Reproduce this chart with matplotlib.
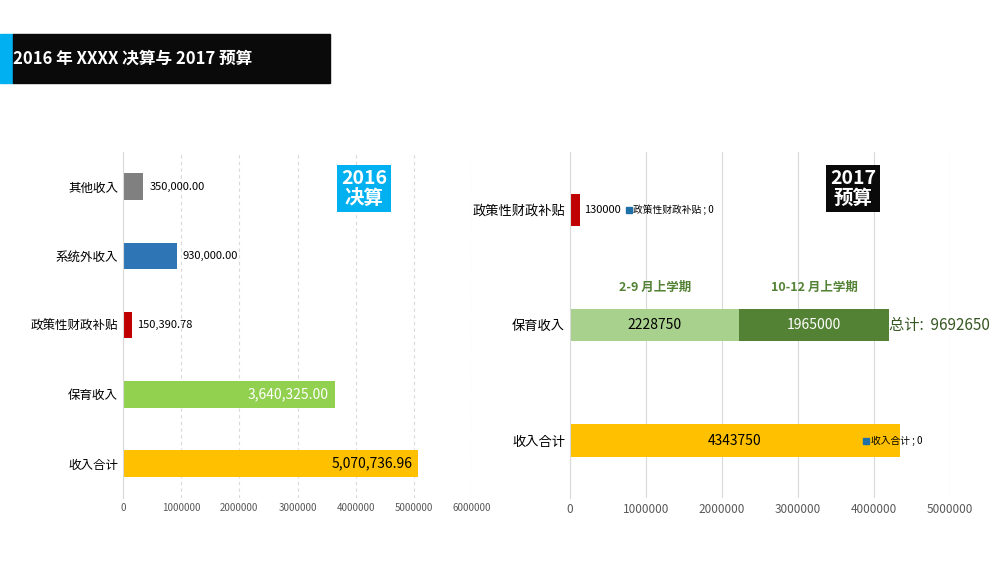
import matplotlib.pyplot as plt
from matplotlib.patches import Rectangle

plt.rcParams['font.family'] = ['Noto Sans CJK JP', 'Noto Sans CJK SC', 'DejaVu Sans']

# 2016 data (bottom to top)
cats_2016 = ["收入合计", "保育收入", "政策性财政补贴", "系统外收入", "其他收入"]
vals_2016 = [5070736.96, 3640325.00, 150390.78, 930000, 350000]
colors_2016 = ["#ffc000", "#92d050", "#c00000", "#2e75b6", "#808080"]
labels_2016 = ["5,070,736.96", "3,640,325.00", "150,390.78", "930,000.00", "350,000.00"]

# 2017 data
cats_2017 = ["收入合计", "保育收入", "政策性财政补贴"]
total_2017 = 4343750
first_term = 2228750
second_term = 1965000
subsidy_2017 = 130000
grand_total = 9692650

fig = plt.figure(figsize=(10, 5.63), dpi=100)

# header
fig.patches.append(Rectangle((0, 0.852), 0.013, 0.088, transform=fig.transFigure, color="#00b0f0"))
fig.patches.append(Rectangle((0.013, 0.852), 0.317, 0.088, transform=fig.transFigure, color="#0a0a0a"))
fig.text(0.013, 0.896, "2016 年 XXXX 决算与 2017 预算", color="white", fontsize=12, fontweight="bold", va="center")

# left chart
ax1 = fig.add_axes([0.123, 0.115, 0.349, 0.615])
y = range(len(cats_2016))
ax1.barh(y, vals_2016, height=0.38, color=colors_2016)
ax1.set_xlim(0, 6000000)
ax1.set_ylim(-0.5, 4.5)
ax1.set_xticks(range(0, 6000001, 1000000))
ax1.set_xticklabels([str(v) for v in range(0, 6000001, 1000000)], fontsize=7, color="#595959")
ax1.set_yticks(list(y))
ax1.set_yticklabels(cats_2016, fontsize=9)
for i, lab in enumerate(labels_2016):
    if i in (2, 3, 4):
        ax1.text(vals_2016[i] + 100000, i, lab, va="center", fontsize=8)
    else:
        ax1.text(vals_2016[i] - 100000, i, lab, va="center", ha="right", fontsize=10,
                 color="white" if i == 1 else "black")
ax1.grid(axis="x", color="#d9d9d9", linestyle=(0, (3, 3)), linewidth=0.8)
ax1.set_axisbelow(True)
for s in ["top", "right", "bottom"]:
    ax1.spines[s].set_visible(False)
ax1.spines["left"].set_color("#d9d9d9")
ax1.tick_params(length=0)
fig.text(0.364, 0.665, "2016\n决算", ha="center", va="center", fontsize=14, fontweight="bold", color="white",
         linespacing=1.1, bbox=dict(boxstyle="square,pad=0.2", fc="#00b0f0", ec="none"))

# right chart
ax2 = fig.add_axes([0.570, 0.115, 0.380, 0.615])
ax2.barh(0, total_2017, height=0.28, color="#ffc000")
ax2.barh(1, first_term, height=0.28, color="#a9d18e")
ax2.barh(1, second_term, left=first_term, height=0.28, color="#548235")
ax2.barh(2, subsidy_2017, height=0.28, color="#c00000")
ax2.set_xlim(0, 5000000)
ax2.set_ylim(-0.5, 2.5)
ax2.set_xticks(range(0, 5000001, 1000000))
ax2.set_xticklabels([str(v) for v in range(0, 5000001, 1000000)], fontsize=8.5, color="#595959")
ax2.set_yticks([0, 1, 2])
ax2.set_yticklabels(cats_2017, fontsize=9.5)
ax2.text(total_2017 / 2, 0, str(total_2017), ha="center", va="center", fontsize=10)
ax2.text(first_term / 2, 1, str(first_term), ha="center", va="center", fontsize=10)
ax2.text(first_term + second_term / 2, 1, str(second_term), ha="center", va="center", fontsize=10, color="white")
ax2.text(first_term / 2, 1.33, "2-9 月上学期", ha="center", va="center", fontsize=9, fontweight="bold", color="#548235")
ax2.text(first_term + second_term / 2, 1.33, "10-12 月上学期", ha="center", va="center", fontsize=9, fontweight="bold", color="#548235")
ax2.text(first_term + second_term, 1, "总计:  " + str(grand_total), ha="left", va="center", fontsize=11, color="#385723")
ax2.plot([3900000], [0], "s", color="#1f6fa8", markersize=4)
ax2.text(3960000, 0, "收入合计 ; 0", va="center", fontsize=7)
ax2.text(subsidy_2017 + 60000, 2, str(subsidy_2017), va="center", fontsize=8)
ax2.plot([780000], [2], "s", color="#1f6fa8", markersize=4)
ax2.text(830000, 2, "政策性财政补贴 ; 0", va="center", fontsize=7)
ax2.grid(axis="x", color="#d9d9d9", linewidth=0.8)
ax2.set_axisbelow(True)
for s in ["top", "right", "bottom"]:
    ax2.spines[s].set_visible(False)
ax2.spines["left"].set_color("#d9d9d9")
ax2.tick_params(length=0)
fig.text(0.853, 0.665, "2017\n预算", ha="center", va="center", fontsize=14, fontweight="bold", color="white",
         linespacing=1.1, bbox=dict(boxstyle="square,pad=0.2", fc="#0a0a0a", ec="none"))

fig.savefig("out.png", dpi=100)
